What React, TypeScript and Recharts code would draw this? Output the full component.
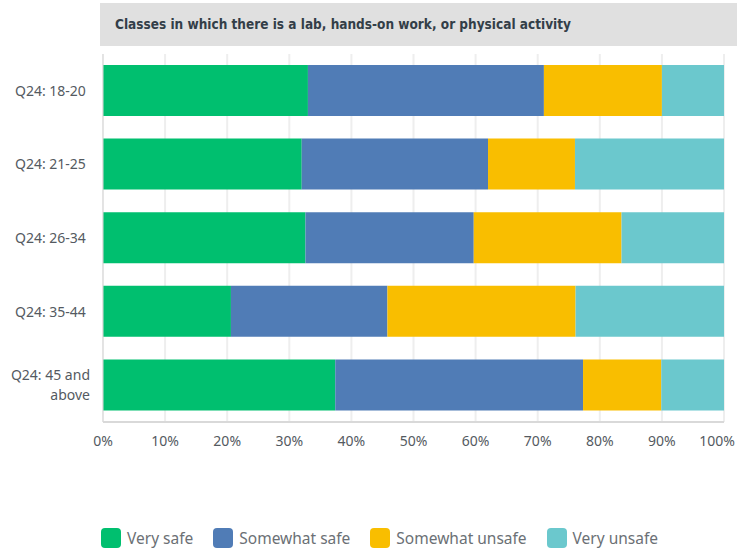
import { BarChart, Bar, XAxis, YAxis, CartesianGrid } from "recharts";

const categories = [
  "Q24: 18-20",
  "Q24: 21-25",
  "Q24: 26-34",
  "Q24: 35-44",
  "Q24: 45 and above",
];
const verySafe = [33, 32, 32.6, 20.6, 37.4];
const somewhatSafe = [38, 30, 27.1, 25.2, 39.9];
const somewhatUnsafe = [19, 14, 23.8, 30.3, 12.6];
const veryUnsafe = [10, 24, 16.5, 23.9, 10.1];
const xTicks = [0, 10, 20, 30, 40, 50, 60, 70, 80, 90, 100];

const seriesNames = ["Very safe", "Somewhat safe", "Somewhat unsafe", "Very unsafe"];
const seriesKeys = ["verySafe", "somewhatSafe", "somewhatUnsafe", "veryUnsafe"];
const colors = ["#00bf6f", "#507cb6", "#f9be00", "#6bc8cd"];

const data = categories.map((name, i) => ({
  name,
  verySafe: verySafe[i],
  somewhatSafe: somewhatSafe[i],
  somewhatUnsafe: somewhatUnsafe[i],
  veryUnsafe: veryUnsafe[i],
}));

const axisFont = "'Noto Sans', Roboto, sans-serif";
const titleFont = "'Liberation Sans Narrow', 'DejaVu Sans Condensed', Roboto, sans-serif";

// wrap long category labels into lines of ~11 chars
const wrap = (s: string, max = 11) => {
  const lines: string[] = [];
  let cur = "";
  s.split(" ").forEach((w) => {
    const next = cur ? cur + " " + w : w;
    if (next.length > max && cur) {
      lines.push(cur);
      cur = w;
    } else cur = next;
  });
  if (cur) lines.push(cur);
  return lines;
};

const YTick = (props: any) => {
  const { y, payload } = props;
  const lines = wrap(payload.value);
  const multi = lines.length > 1;
  return (
    <text
      x={multi ? 90 : 15}
      y={y}
      textAnchor={multi ? "end" : "start"}
      fill="#545a61"
      fontSize={14}
      fontFamily={axisFont}
    >
      {lines.map((l, i) => (
        <tspan key={i} x={multi ? 90 : 15} dy={i === 0 ? 5 - (lines.length - 1) * 10 : 20}>
          {l}
        </tspan>
      ))}
    </text>
  );
};

const XTick = (props: any) => {
  const { x, y, payload } = props;
  const atEdge = x + 18 > 735;
  return (
    <text
      x={atEdge ? 735 : x}
      y={y}
      dy={16}
      textAnchor={atEdge ? "end" : "middle"}
      fill="#545a61"
      fontSize={14}
      fontFamily={axisFont}
    >
      {payload.value}%
    </text>
  );
};

export default function App() {
  return (
    <div style={{ position: "absolute", left: 0, top: 0, width: 737, height: 548, background: "#fff" }}>
      <div
        style={{
          position: "absolute",
          left: 100,
          top: 3,
          width: 637,
          height: 43,
          background: "#e0e0e0",
          boxSizing: "border-box",
          paddingLeft: 15,
          lineHeight: "43px",
          fontFamily: titleFont,
          fontWeight: "bold",
          fontSize: 13.5,
          color: "#333e48",
        }}
      >
        Classes in which there is a lab, hands-on work, or physical activity
      </div>
      <BarChart
        width={737}
        height={548}
        data={data}
        layout="vertical"
        margin={{ top: 54, right: 13, left: 3, bottom: 96 }}
        barSize={51}
      >
        <CartesianGrid horizontal={false} stroke="#eeeeee" strokeWidth={2} />
        <XAxis
          type="number"
          domain={[0, 100]}
          ticks={xTicks}
          height={30}
          tickLine={false}
          axisLine={{ stroke: "#d9d9d9", strokeWidth: 2 }}
          tick={<XTick />}
          interval={0}
        />
        <YAxis
          type="category"
          dataKey="name"
          width={100}
          tickLine={false}
          axisLine={{ stroke: "#d9d9d9", strokeWidth: 1 }}
          tick={<YTick />}
          interval={0}
        />
        {seriesKeys.map((k, i) => (
          <Bar
            key={k}
            dataKey={k}
            name={seriesNames[i]}
            stackId="a"
            fill={colors[i]}
            isAnimationActive={false}
          />
        ))}
      </BarChart>
      <div style={{ position: "absolute", left: 101, top: 527, display: "flex", alignItems: "center" }}>
        {seriesNames.map((n, i) => (
          <div key={n} style={{ display: "flex", alignItems: "center", marginRight: 20 }}>
            <span
              style={{
                display: "inline-block",
                width: 20,
                height: 20,
                borderRadius: 4,
                background: colors[i],
                marginRight: 6,
              }}
            />
            <span style={{ fontFamily: axisFont, fontSize: 15.5, color: "#6b7075" }}>{n}</span>
          </div>
        ))}
      </div>
    </div>
  );
}
